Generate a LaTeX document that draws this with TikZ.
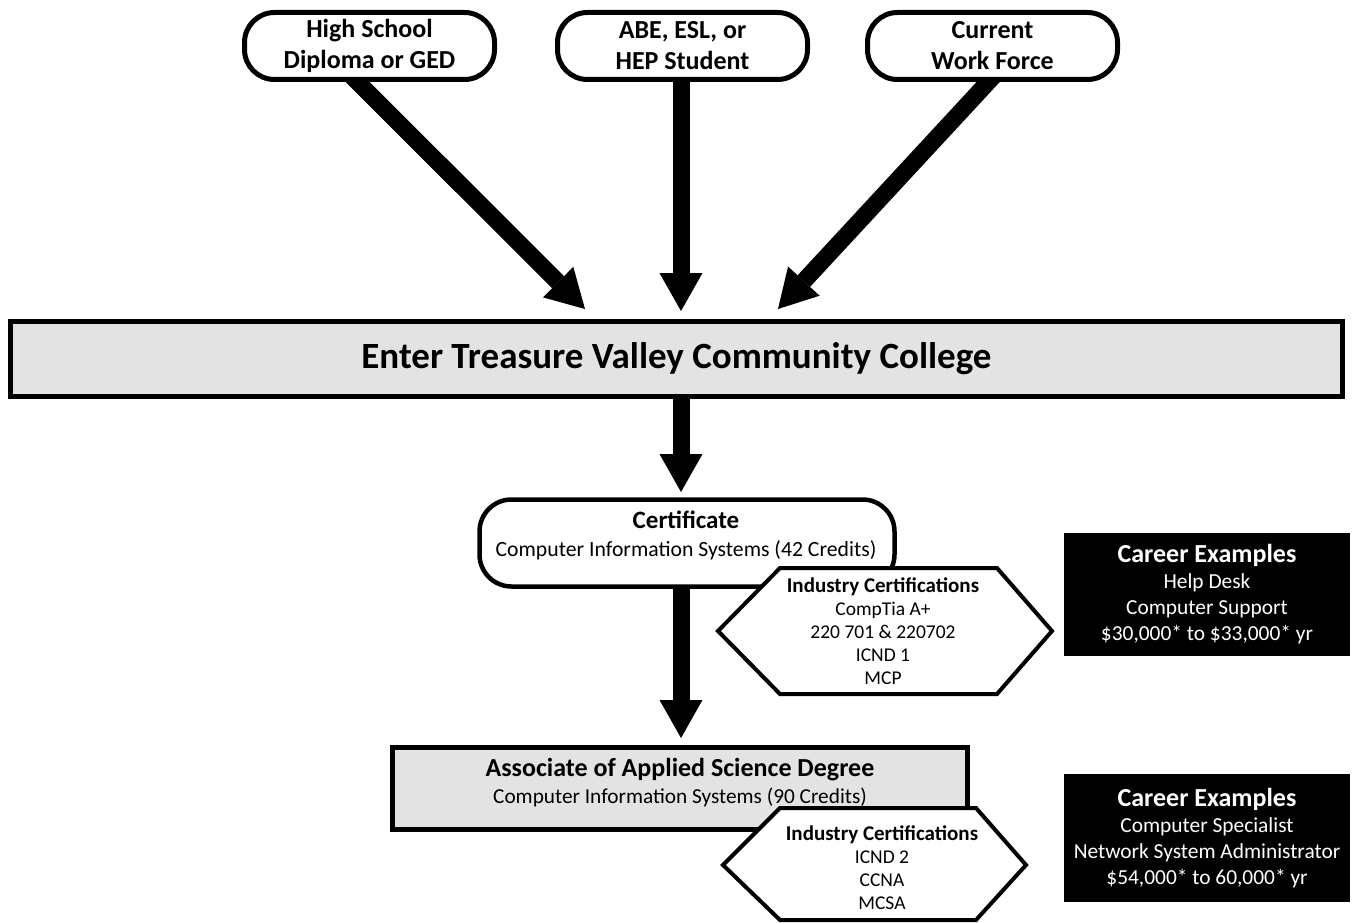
\documentclass[tikz,border=0pt]{standalone}
\usepackage{fontspec}
\setmainfont{Carlito}
\usetikzlibrary{arrows.meta,backgrounds}
\definecolor{boxgray}{RGB}{227,227,227}
\tikzset{
  srcbox/.style={draw, line width=5pt, rounded corners=30pt, fill=white,
    minimum width=250pt, minimum height=67pt, align=center, inner sep=0pt,
    font=\bfseries\fontsize{26}{31}\selectfont},
  bigarrow/.style={line width=17pt, -{Triangle[length=38pt,width=43pt,line width=0pt]}},
  graybox/.style={draw, line width=5pt, fill=boxgray, inner sep=0pt},
  roundbox/.style={draw, line width=4.5pt, fill=white, rounded corners=32pt, inner sep=0pt},
  hexline/.style={draw, line width=4pt, fill=white, line join=miter},
  hextext/.style={align=center, inner sep=0pt, font=\fontsize{19.5}{23}\selectfont},
  careerbox/.style={fill=black, text=white, align=center, inner sep=0pt,
    font=\fontsize{21.4}{26}\selectfont},
  lbl/.style={align=center, inner sep=0pt},
}
\begin{document}
\begin{tikzpicture}[x=1pt,y=-1pt]
\useasboundingbox (0,0) rectangle (1353,923);

% source nodes
\node[srcbox] (hs)  at (369.5,46) {High School\\Diploma or GED};
\node[srcbox] (abe) at (682.5,46) {ABE, ESL, or\\HEP Student};
\node[srcbox] (cur) at (992.5,46) {Current\\Work Force};

% main college box
\node[graybox, minimum width=1332pt, minimum height=75pt] (ent) at (676.5,359)
  {\bfseries\fontsize{37}{44}\selectfont Enter Treasure Valley Community College};

% certificate
\node[roundbox, minimum width=415pt, minimum height=87pt] (cert) at (687,543) {};
\node[lbl, font=\fontsize{21.7}{28}\selectfont] (certtxt) at (686,535)
  {{\bfseries\fontsize{25}{28}\selectfont Certificate}\\
   Computer Information Systems (42 Credits)};

% associate degree
\node[graybox, minimum width=575pt, minimum height=82pt] (aas) at (680,788.5) {};
\node[lbl, font=\fontsize{21.3}{27}\selectfont] (aastxt) at (680,783)
  {{\bfseries\fontsize{26}{27}\selectfont Associate of Applied Science Degree}\\
   Computer Information Systems (90 Credits)};

% arrow tips
\coordinate (tip1) at (585,309);
\coordinate (tip2) at (681,311);
\coordinate (tip3) at (778,309);
\coordinate (tip4) at (681,492);
\coordinate (tip5) at (681,738);

\begin{scope}[on background layer]
  \draw[bigarrow] ([xshift=-48pt]hs.center) -- (tip1);
  \draw[bigarrow] (abe.center -| tip2) -- (tip2);
  \draw[bigarrow] ([xshift=29pt]cur.center) -- (tip3);
  \draw[bigarrow] (ent.center -| tip4) -- (tip4);
  \draw[bigarrow] (cert.center -| tip5) -- (tip5);
\end{scope}

% industry certifications (hexagons)
\draw[hexline] (718,631) -- (780,568) -- (997,568) -- (1052,631) -- (997,694) -- (780,694) -- cycle;
\node[hextext] (hex1) at (883,631)
  {{\bfseries\fontsize{21}{23}\selectfont Industry Certifications}\\
   CompTia A+\\ 220 701 \& 220702\\ ICND 1\\ MCP};

\draw[hexline] (723,865) -- (780,808) -- (976,808) -- (1026,865) -- (976,920) -- (780,920) -- cycle;
\node[hextext] (hex2) at (882,868)
  {{\bfseries\fontsize{21}{23}\selectfont Industry Certifications}\\
   ICND 2\\ CCNA\\ MCSA};

% career examples
\node[careerbox, minimum width=286pt, minimum height=123pt] (car1) at (1207,594.5)
  {{\bfseries\fontsize{26}{26}\selectfont Career Examples}\\
   Help Desk\\ Computer Support\\ \$30,000* to \$33,000* yr};
\node[careerbox, minimum width=286pt, minimum height=128pt] (car2) at (1207,838)
  {{\bfseries\fontsize{26}{26}\selectfont Career Examples}\\
   Computer Specialist\\ Network System Administrator\\ \$54,000* to 60,000* yr};
\end{tikzpicture}
\end{document}
